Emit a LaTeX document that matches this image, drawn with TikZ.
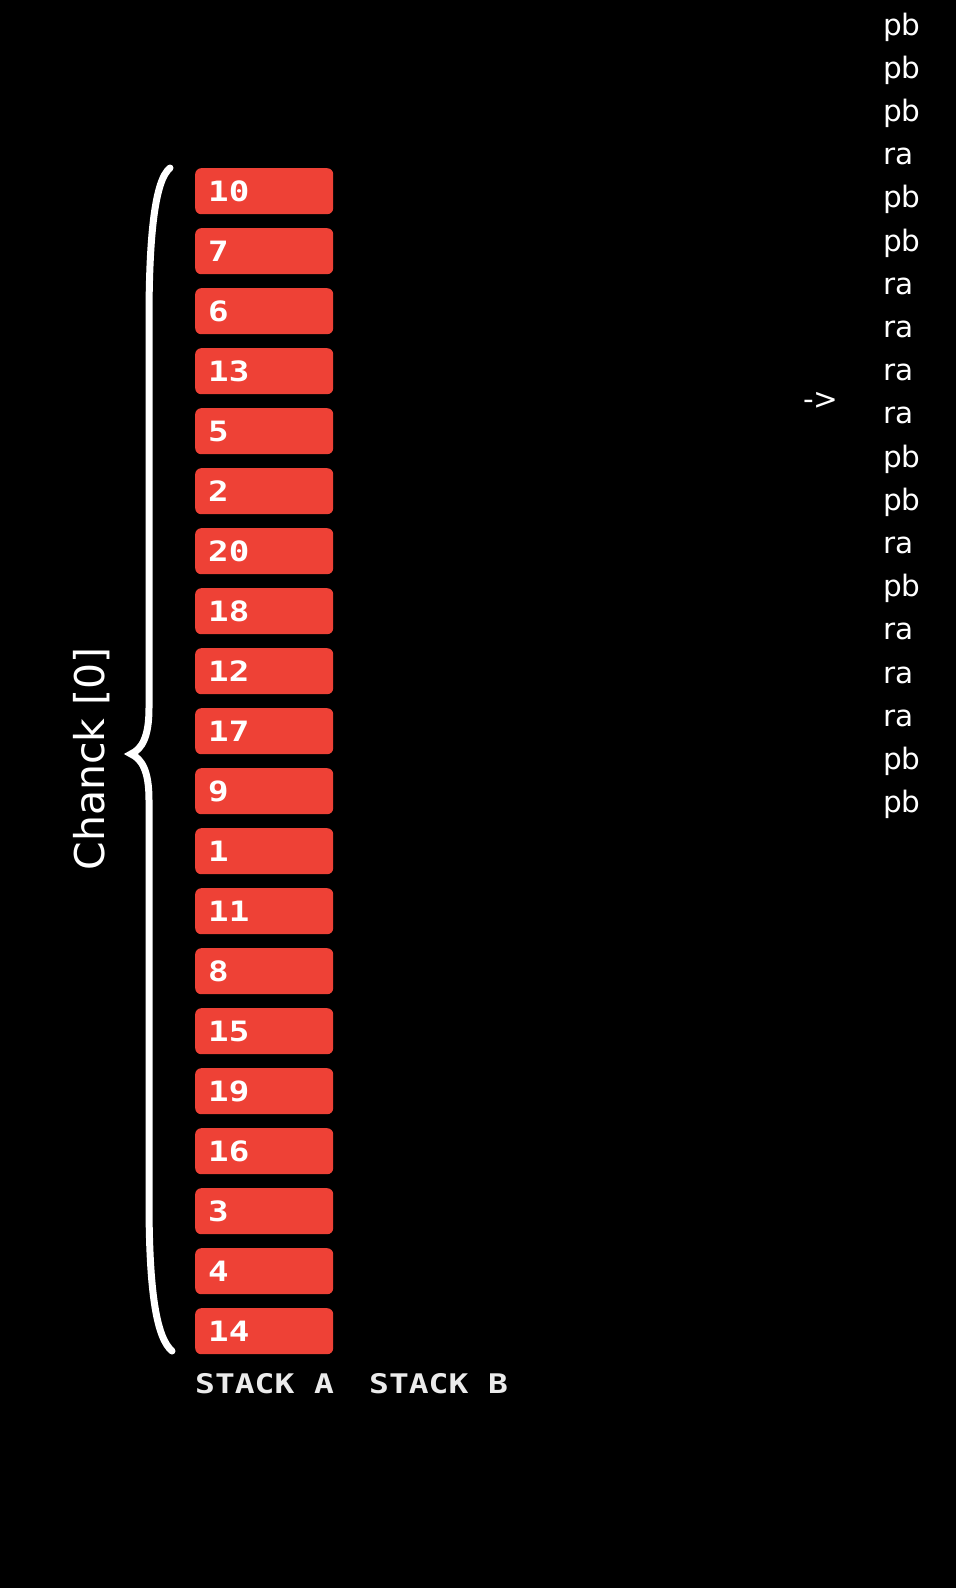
\documentclass[tikz,border=0pt]{standalone}
\usepackage{fontspec}
\usepackage{graphicx}
\newfontfamily\labelfont{DejaVu Sans}
\newfontfamily\monofont{DejaVu Sans Mono}[BoldFont={DejaVu Sans Mono Bold}]
\definecolor{boxred}{RGB}{238,65,54}
\newcommand{\boxtext}[1]{\scalebox{1.22}[1]{#1}}
\tikzset{
  stackbox/.style={fill=boxred, draw=none, rounded corners=6pt, anchor=north west,
    minimum height=46pt, text width=112pt, inner xsep=13pt, inner ysep=0pt, align=left,
    text=white, font=\monofont\bfseries\fontsize{28}{30}\selectfont},
  stacklabel/.style={anchor=base west, inner sep=0pt, text=white!92!black,
    font=\monofont\bfseries\fontsize{27}{30}\selectfont},
  optext/.style={anchor=base west, inner sep=0pt, text=white,
    font=\labelfont\fontsize{29.5}{35}\selectfont},
  bracepath/.style={draw=white, line width=7pt, line cap=round}
}
\begin{document}
\begin{tikzpicture}[x=1pt, y=-1pt]
\path[fill=black, use as bounding box] (0,0) rectangle (956,1588);
% stack A boxes
\foreach \v [count=\i from 0] in {10,7,6,13,5,2,20,18,12,17,9,1,11,8,15,19,16,3,4,14}{
  \node[stackbox] (box\i) at (195,{168+60*\i}) {\boxtext{\v}};
}
% stack labels
\node[stacklabel] (sa) at (195,1393) {\boxtext{STACK A}};
\node[stacklabel] (sb) at (369,1393) {\boxtext{STACK B}};
% brace
\coordinate (btop) at (170,168);
\coordinate (btip) at (131,754);
\coordinate (bbot) at (172,1351);
\draw[bracepath] (btop) .. controls (155,180) and (149,235) .. (149,320)
  -- (149,708) .. controls (149,737) and (142,749) .. (btip)
  .. controls (142,759) and (149,771) .. (149,800)
  -- (149,1200) .. controls (149,1295) and (157,1338) .. (bbot);
\node[rotate=90, text=white, inner sep=0pt, font=\labelfont\fontsize{41}{45}\selectfont] (chunk) at (92,759) {Chanck [0]};
% operations list
\foreach \o [count=\i from 0] in {pb,pb,pb,ra,pb,pb,ra,ra,ra,ra,pb,pb,ra,pb,ra,ra,ra,pb,pb}{
  \node[optext] (op\i) at (883,{35+43.2*\i}) {\o};
}
\node[optext] (arrow) at (803,409) {->};
\end{tikzpicture}
\end{document}
